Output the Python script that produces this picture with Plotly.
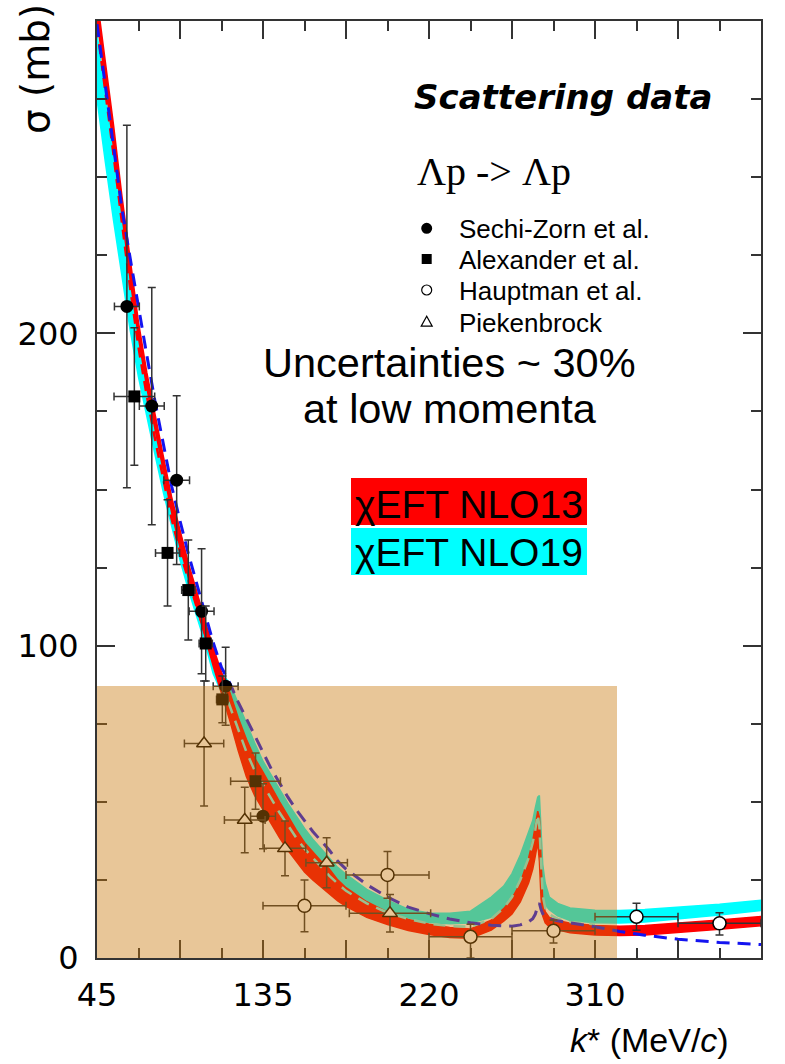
import plotly.graph_objects as go

# ---------------- data (p_lab axis, relabelled with k*) ----------------
p = [100, 110, 120, 130, 140, 150, 160, 170, 180, 190, 200, 210, 220, 230, 240, 250, 260, 270, 280, 290,
     300, 310, 320, 330, 340, 350, 360, 370, 380, 390, 400, 425, 450, 475, 500, 525, 550, 575, 590, 600,
     610, 620, 625, 628, 631, 633, 635, 637, 640, 645, 655, 670, 700, 730, 760, 800, 850, 900]

nlo13_lo = [300.5, 280.5, 259.5, 238, 217, 198.5, 182.5, 168.5, 155.5, 142.5, 131.5, 121.5, 112.5, 103, 93.5, 84.5, 76, 66.5, 58, 52,
            47.5, 43, 38.5, 34.5, 31, 27.5, 25, 23, 20.5, 18.3, 16.5, 13, 10.7, 8.8, 7.5, 6.6, 6.3, 8.9, 11.8, 14.1,
            18, 24, 28.5, 32.5, 37, 31, 19, 13.5, 11.3, 10, 9, 8.1, 7.4, 7.2, 7.4, 8.1, 9.2, 10.3]
nlo13_hi = [307.5, 287.5, 266.5, 244, 223, 203.5, 187.5, 173.5, 160.5, 147.5, 136.5, 126.5, 117.5, 108, 99.5, 91.5, 85, 77, 70, 64,
            59.5, 54.5, 50, 45.5, 41, 37, 34, 31, 28.5, 25, 22.5, 18, 14.7, 12.3, 10.8, 9.8, 9.3, 12.1, 15.8, 19.1,
            24, 32, 37.5, 42.5, 47, 45, 29, 18.5, 14.8, 13, 12, 11.1, 10.4, 10.2, 10.4, 11.1, 12.2, 13.3]
nlo19_lo = [275, 255, 236, 218, 201, 186, 173, 161, 149, 138, 127.5, 118, 109.5, 101, 91, 85, 83, 76.5, 70, 64,
            59, 54.5, 50, 45.5, 41, 37.5, 34, 31, 28, 25, 22.5, 18, 14.8, 12.8, 11.4, 11, 11.2, 13, 14.8, 17,
            22, 29, 34, 38, 43, 35, 24, 19, 17, 15.5, 13.5, 12, 11.3, 11.2, 11.5, 12.5, 13.8, 15.2]
nlo19_hi = [296, 276, 257, 238, 219, 201, 186, 172, 159, 147, 136, 126, 117, 108, 98, 91, 88, 81.5, 75, 68.8,
            63, 58.5, 54, 49.5, 45.5, 41.5, 38, 35, 32.2, 29, 26.8, 22, 18.5, 15.6, 14.4, 14.3, 15, 19.5, 23, 27,
            33, 40, 44, 48, 51.5, 52, 40, 30, 24, 19.5, 17.5, 16, 15.3, 15.2, 15.5, 16.3, 17.2, 18.5]
lo_dashed = [299, 279.5, 259, 240, 224, 208, 193, 178, 164, 151, 140, 129.5, 120, 110.5, 101, 93, 88, 82, 76.5, 71,
             65.5, 60.5, 56, 51.5, 47.5, 44, 40.5, 37.5, 34.5, 31, 28.5, 23.5, 19.5, 16.3, 14.2, 12.5, 11.3, 10.5, 10.2, 10.2,
             10.6, 11.6, 12.6, 14, 16.5, 17.6, 15.5, 14.2, 13.3, 12.6, 11.9, 11.3, 10, 8.5, 7.3, 6, 5, 4.3]
nlo19_dashed = [None] * 15 + [88, 80.5, 73, 66, 60,
                55.5, 51, 46.5, 42.5, 38.5, 35, 32, 29, 26.3, 23.8, 21.5, 17.5, 14.5, 12.5, 11, 10.2, 10, 12.5, 16, 19.5,
                25, 32, 37, 41, 46, 42, 28, 20, 16, 14, 12.5, 11.5, 10.8, None, None, None, None, None]
nlo13_dashed = [298, 278, 257, 235.5, 214.5, 195.5, 180, 166, 153, 140.5, 130, 121, 112.5, 104, 95] + [None] * 43

# experimental data
sz_p = [136, 166, 196, 226, 255, 300]
sz_s = [208.6, 176.7, 153, 111, 87, 45.4]
sz_dp = [15, 15, 15.5, 15, 15, 15]
sz_ds = [58, 38, 27, 20, 12.5, 10.4]

al_p = [145, 185, 210, 231, 251, 291]
al_s = [179.8, 129.7, 117.8, 100.7, 82.8, 56.6]
al_dp = [24.5, 14.5, 8, 8, 7, 30]
al_ds = [22, 17, 16, 12, 7.5, 9]

ha_p = [350, 450, 550, 650, 750, 850]
ha_s = [16.7, 26.6, 6.8, 8.7, 13.2, 11.1]
ha_dp = [50, 50, 50, 50, 50, 50]
ha_ds_up = [8.3, 7.5, 4, 3.5, 4.3, 3.4]
ha_ds_dn = [8.3, 7.5, 6.8, 3.9, 4.3, 3.7]

pk_p = [229, 278, 326.5, 376.7, 453]
pk_s = [68.7, 44.2, 35.1, 30.5, 14.3]
pk_dp = [23.7, 24.5, 25, 25, 49]
pk_ds = [20, 10.5, 8.8, 8, 6]

legend_names = ["Sechi-Zorn et al.", "Alexander et al.", "Hauptman et al.", "Piekenbrock"]

x_tickvals = [100, 200, 300, 400, 500, 600, 700, 800, 900]
x_ticktext = ["45", "", "135", "", "220", "", "310", "", "385"]
x_minor = [150, 250, 350, 450, 550, 650, 750, 850]
y_tickvals = [0, 100, 200, 300]
y_ticktext = ["0", "100", "200", ""]
y_minor = [25, 50, 75, 125, 150, 175, 225, 250, 275]

# ---------------- figure ----------------
L, R, T, B = 97, 761, 21, 958


def px(x):
    return (x - L) / (R - L)


def py(y):
    return (B - y) / (B - T)


fig = go.Figure()


def band(lo, hi, color):
    fig.add_trace(go.Scatter(
        x=p + p[::-1], y=hi + lo[::-1], fill="toself", fillcolor=color,
        line=dict(color=color, width=1.5), mode="lines", showlegend=False, hoverinfo="skip"))


band(nlo19_lo, nlo19_hi, "rgb(0,255,255)")
band(nlo13_lo, nlo13_hi, "rgb(255,0,0)")

fig.add_trace(go.Scatter(x=p, y=nlo19_dashed, mode="lines", showlegend=False,
                         line=dict(color="rgb(120,245,240)", width=2.5, dash="12px,8px")))
fig.add_trace(go.Scatter(x=p, y=nlo13_dashed, mode="lines", showlegend=False,
                         line=dict(color="rgb(255,0,0)", width=2.5, dash="10px,7px")))
fig.add_trace(go.Scatter(x=p, y=lo_dashed, mode="lines", showlegend=False,
                         line=dict(color="rgb(20,20,240)", width=3, dash="13px,8px")))

ebar = dict(color="#333333", thickness=1.5, width=4)

fig.add_trace(go.Scatter(
    x=sz_p, y=sz_s, mode="markers", name=legend_names[0], showlegend=False,
    error_x=dict(type="data", array=sz_dp, **ebar), error_y=dict(type="data", array=sz_ds, **ebar),
    marker=dict(symbol="circle", size=13, color="black")))
fig.add_trace(go.Scatter(
    x=al_p, y=al_s, mode="markers", name=legend_names[1], showlegend=False,
    error_x=dict(type="data", array=al_dp, **ebar), error_y=dict(type="data", array=al_ds, **ebar),
    marker=dict(symbol="square", size=12, color="black")))
fig.add_trace(go.Scatter(
    x=ha_p, y=ha_s, mode="markers", name=legend_names[2], showlegend=False,
    error_x=dict(type="data", array=ha_dp, **ebar),
    error_y=dict(type="data", array=ha_ds_up, arrayminus=ha_ds_dn, **ebar),
    marker=dict(symbol="circle", size=13, color="white", line=dict(color="black", width=1.5))))
fig.add_trace(go.Scatter(
    x=pk_p, y=pk_s, mode="markers", name=legend_names[3], showlegend=False,
    error_x=dict(type="data", array=pk_dp, **ebar), error_y=dict(type="data", array=pk_ds, **ebar),
    marker=dict(symbol="triangle-up", size=13, color="white", line=dict(color="black", width=1.5))))

axis_common = dict(showline=True, linecolor="#333333", linewidth=2, mirror="ticks",
                   ticks="inside", ticklen=18, tickwidth=2, tickcolor="#333333",
                   showgrid=False, zeroline=False,
                   tickfont=dict(family="DejaVu Sans", size=32, color="black"))

fig.update_xaxes(range=[100, 900], tickmode="array", tickvals=x_tickvals, ticktext=x_ticktext,
                 ticklabelstandoff=8,
                 minor=dict(tickmode="array", tickvals=x_minor, ticks="inside", ticklen=10,
                            tickwidth=2, tickcolor="#333333", showgrid=False),
                 **axis_common)
fig.update_yaxes(range=[0, 300], tickmode="array", tickvals=y_tickvals, ticktext=y_ticktext,
                 ticklabelstandoff=10,
                 minor=dict(tickmode="array", tickvals=y_minor, ticks="inside", ticklen=10,
                            tickwidth=2, tickcolor="#333333", showgrid=False),
                 **axis_common)

# hand-made legend (symbols as layout shapes)
lx = 426.7
leg_rows = [228.3, 259, 290, 321.7]
shapes = [
    dict(type="circle", xref="paper", yref="paper", x0=px(lx - 5.5), x1=px(lx + 5.5),
         y0=py(leg_rows[0] + 5.5), y1=py(leg_rows[0] - 5.5), fillcolor="black", line=dict(color="black", width=0)),
    dict(type="rect", xref="paper", yref="paper", x0=px(lx - 5), x1=px(lx + 5),
         y0=py(leg_rows[1] + 5), y1=py(leg_rows[1] - 5), fillcolor="black", line=dict(color="black", width=0)),
    dict(type="circle", xref="paper", yref="paper", x0=px(lx - 5), x1=px(lx + 5),
         y0=py(leg_rows[2] + 5), y1=py(leg_rows[2] - 5), fillcolor="white", line=dict(color="black", width=1.2)),
    dict(type="path", xref="paper", yref="paper",
         path="M {:.5f},{:.5f} L {:.5f},{:.5f} L {:.5f},{:.5f} Z".format(
             px(lx - 5.5), py(leg_rows[3] + 4.5), px(lx + 5.5), py(leg_rows[3] + 4.5),
             px(lx), py(leg_rows[3] - 5.5)),
         fillcolor="white", line=dict(color="black", width=1.2)),
    dict(type="rect", xref="paper", yref="paper", x0=px(351), x1=px(587), y0=py(525), y1=py(478),
         fillcolor="rgb(255,0,0)", line=dict(width=0), layer="above"),
    dict(type="rect", xref="paper", yref="paper", x0=px(351), x1=px(587), y0=py(575), y1=py(528),
         fillcolor="rgb(0,255,255)", line=dict(width=0), layer="above"),
    dict(type="rect", xref="paper", yref="paper", x0=0, x1=px(617), y0=0, y1=py(686),
         fillcolor="rgba(200,120,10,0.42)", line=dict(width=0), layer="above"),
]

ann = [
    dict(text="σ (mb)", x=px(36), y=py(69), textangle=-90,
         font=dict(family="DejaVu Sans", size=39, color="black")),
    dict(text="<i>k</i>* (MeV/<i>c</i>)", x=px(649), y=py(1040),
         font=dict(family="Liberation Sans", size=34, color="black")),
    dict(text="<b><i>Scattering data</i></b>", x=px(563), y=py(97),
         font=dict(family="DejaVu Sans", size=34, color="black")),
    dict(text="Λp -&gt; Λp", x=px(494), y=py(171),
         font=dict(family="Liberation Serif", size=40, color="black")),
    dict(text="Uncertainties ~ 30%", x=px(450), y=py(362),
         font=dict(family="Liberation Sans", size=41.5, color="black")),
    dict(text="at low momenta", x=px(450), y=py(408),
         font=dict(family="Liberation Sans", size=41.5, color="black")),
    dict(text="χEFT NLO13", x=px(469), y=py(504),
         font=dict(family="Liberation Sans", size=39, color="black")),
    dict(text="χEFT NLO19", x=px(469), y=py(552),
         font=dict(family="Liberation Sans", size=39, color="black")),
]
for a in ann:
    a.update(xanchor="center")
for name, yy in zip(legend_names, leg_rows):
    ann.append(dict(text=name, x=px(457), y=py(yy + 1), xanchor="left",
                    font=dict(family="Liberation Sans", size=26, color="black")))
for a in ann:
    a.update(xref="paper", yref="paper", showarrow=False, yanchor="middle")

fig.update_layout(
    width=785, height=1064,
    margin=dict(l=L, r=785 - R, t=T, b=1064 - B),
    plot_bgcolor="white", paper_bgcolor="white",
    shapes=shapes, annotations=ann,
    showlegend=False,
)

fig.write_html("out.html")
